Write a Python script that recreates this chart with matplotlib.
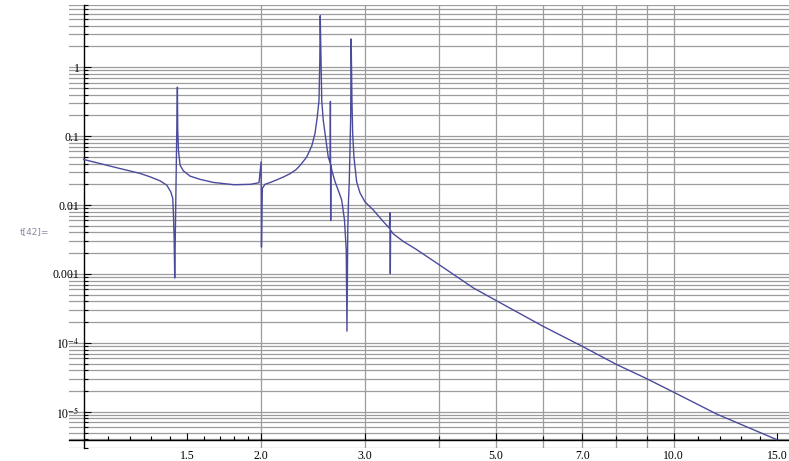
import matplotlib.pyplot as plt
from matplotlib.ticker import FixedLocator, NullFormatter

plt.rcParams['font.family'] = 'Liberation Serif'
plt.rcParams['mathtext.fontset'] = 'stix'

# values (log-log)
freq = [1.0, 1.141, 1.246, 1.296, 1.347, 1.383, 1.405, 1.416, 1.420, 1.424, 1.427,
        1.442, 1.444, 1.448, 1.457, 1.476, 1.515, 1.575, 1.659, 1.799, 1.919, 1.983,
        1.999, 2.002, 2.009, 2.030, 2.070, 2.125, 2.180, 2.238, 2.290, 2.327, 2.388, 2.436,
        2.467, 2.489, 2.506, 2.514, 2.518, 2.526, 2.533, 2.548, 2.575, 2.598,
        2.618, 2.620, 2.623, 2.626, 2.634, 2.668, 2.713, 2.738, 2.768, 2.787,
        2.795, 2.804, 2.812, 2.820, 2.828, 2.836, 2.841, 2.850, 2.858, 2.872,
        2.903, 2.941, 2.999, 3.097, 3.221, 3.298, 3.306, 3.310, 3.314, 3.349,
        3.483, 3.650, 3.993, 4.576, 4.994, 6.0, 6.986, 7.99, 8.97, 9.97,
        11.83, 14.96]
amp = [0.0459, 0.0346, 0.0288, 0.0257, 0.0225, 0.0195, 0.0156, 0.01254, 0.0072, 0.00313, 0.000875,
       0.514, 0.1217, 0.0625, 0.0380, 0.0314, 0.0263, 0.0236, 0.0213, 0.0197, 0.0200, 0.0211,
       0.0424, 0.00245, 0.0175, 0.0200, 0.0212, 0.0232, 0.0255, 0.0285, 0.0325, 0.0375, 0.0495, 0.0720,
       0.109, 0.1895, 0.330, 1.25, 5.59, 1.25, 0.330, 0.170, 0.0873, 0.0500,
       0.0406, 0.319, 0.00595, 0.038, 0.0321, 0.0218, 0.0148, 0.01185, 0.0061, 0.00224,
       0.000148, 0.00437, 0.01185, 0.0209, 0.0625, 0.1895, 2.57, 0.330, 0.109, 0.0500,
       0.0216, 0.0150, 0.0111, 0.00849, 0.00575, 0.00462, 0.00776, 0.00101, 0.0043, 0.00382,
       0.00296, 0.00232, 0.001386, 0.000628, 0.000415, 0.000175, 9.0e-5, 4.89e-5, 3.07e-5, 1.95e-5,
       9.27e-6, 3.94e-6]

x_major = [1.5, 2.0, 3.0, 5.0, 7.0, 10.0, 15.0]
x_major_labels = ['1.5', '2.0', '3.0', '5.0', '7.0', '10.0', '15.0']
x_minor = [1.1, 1.2, 1.3, 1.4, 1.6, 1.7, 1.8, 1.9, 4, 6, 8, 9, 11, 12, 13, 14]
x_grid = [2, 3, 4, 5, 6, 7, 8, 9, 10]

y_major = [1e-5, 1e-4, 1e-3, 1e-2, 1e-1, 1]
y_major_labels = [r'$10^{-5}$', r'$10^{-4}$', '0.001', '0.01', '0.1', '1']
y_grid = [k * 10.0 ** n for n in range(-6, 1) for k in range(1, 10)]
y_minor = [v for v in y_grid if v not in y_major]

fig = plt.figure(figsize=(7.89, 4.61), dpi=100)
ax = fig.add_axes([69 / 789, 1 - 448 / 461, 720 / 789, 443 / 461])
ax.set_xscale('log')
ax.set_yscale('log')
ax.set_xlim(0.9446, 15.69)
ax.set_ylim(2.98e-6, 8.0)

for g in y_grid:
    ax.axhline(g, color='#9c9c9c', lw=0.9, zorder=1)
for g in x_grid:
    ax.axvline(g, color='#9c9c9c', lw=0.9, zorder=1)

ax.plot(freq, amp, color='#4b4b9e', lw=1.0, zorder=3)

for s in ['top', 'right']:
    ax.spines[s].set_visible(False)
ax.spines['left'].set_position(('data', 1.0))
ax.spines['bottom'].set_position(('data', 3.85e-6))
ax.spines['left'].set_linewidth(1.0)
ax.spines['bottom'].set_linewidth(1.0)

ax.xaxis.set_major_locator(FixedLocator(x_major))
ax.xaxis.set_minor_locator(FixedLocator(x_minor))
ax.set_xticklabels(x_major_labels)
ax.xaxis.set_minor_formatter(NullFormatter())
ax.yaxis.set_major_locator(FixedLocator(y_major))
ax.yaxis.set_minor_locator(FixedLocator(y_minor))
ax.set_yticklabels(y_major_labels)
ax.yaxis.set_minor_formatter(NullFormatter())

ax.tick_params(which='major', direction='in', length=5, width=0.8, labelsize=8.5)
ax.tick_params(which='minor', direction='in', length=3, width=0.8)
ax.tick_params(axis='x', which='major', pad=7)
ax.tick_params(axis='y', which='major', pad=3)

fig.text(20 / 789, 1 - 232 / 461, 't[42]=', fontsize=6.5, color='#8a8aa0',
         family='DejaVu Sans', va='center', ha='left')

fig.savefig('out.png', dpi=100)
